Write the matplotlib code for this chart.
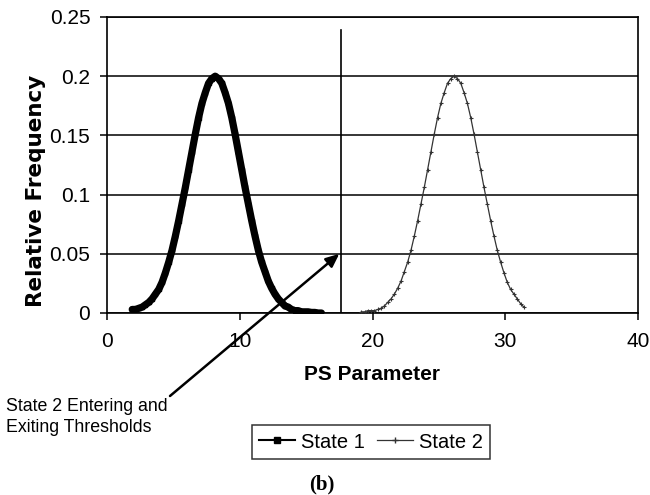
import matplotlib
matplotlib.use("Agg")
import matplotlib.pyplot as plt
from matplotlib.lines import Line2D

plt.rcParams['font.family'] = ['Liberation Sans', 'DejaVu Sans']

# ---- data ----
state1_x = [1.9, 2.15, 2.4, 2.65, 2.9, 3.15, 3.4, 3.65, 3.9, 4.15, 4.4, 4.65, 4.9, 5.15,
            5.4, 5.65, 5.9, 6.15, 6.4, 6.65, 6.9, 7.15, 7.4, 7.65, 7.9, 8.15, 8.4, 8.65,
            8.9, 9.15, 9.4, 9.65, 9.9, 10.15, 10.4, 10.65, 10.9, 11.15, 11.4, 11.65, 11.9,
            12.15, 12.4, 12.65, 12.9, 13.15, 13.4, 13.65, 13.9, 14.15, 14.4, 14.65, 14.9,
            15.15, 15.4, 15.65, 15.9, 16.15]
state1_y = [0.003, 0.003, 0.004, 0.005, 0.007, 0.009, 0.012, 0.016, 0.020, 0.026, 0.034,
            0.043, 0.053, 0.065, 0.078, 0.092, 0.106, 0.121, 0.136, 0.151, 0.165, 0.177,
            0.186, 0.194, 0.198, 0.200, 0.198, 0.194, 0.186, 0.177, 0.165, 0.151, 0.136,
            0.121, 0.106, 0.092, 0.078, 0.065, 0.053, 0.043, 0.035, 0.027, 0.021, 0.016,
            0.012, 0.009, 0.006, 0.005, 0.003, 0.002, 0.002, 0.001, 0.001, 0.001, 0.0005,
            0.0005, 0.0, 0.0]

state2_x = [19.15, 19.4, 19.65, 19.9, 20.15, 20.4, 20.65, 20.9, 21.15, 21.4, 21.65, 21.9,
            22.15, 22.4, 22.65, 22.9, 23.15, 23.4, 23.65, 23.9, 24.15, 24.4, 24.65, 24.9,
            25.15, 25.4, 25.65, 25.9, 26.15, 26.4, 26.65, 26.9, 27.15, 27.4, 27.65, 27.9,
            28.15, 28.4, 28.65, 28.9, 29.15, 29.4, 29.65, 29.9, 30.15, 30.4, 30.65, 30.9,
            31.15, 31.4]
state2_y = [0.001, 0.001, 0.002, 0.002, 0.002, 0.003, 0.004, 0.006, 0.009, 0.012, 0.016,
            0.021, 0.027, 0.035, 0.043, 0.053, 0.065, 0.078, 0.092, 0.106, 0.121, 0.136,
            0.151, 0.165, 0.177, 0.186, 0.194, 0.198, 0.200, 0.198, 0.194, 0.186, 0.177,
            0.165, 0.151, 0.136, 0.121, 0.106, 0.092, 0.078, 0.065, 0.053, 0.043, 0.034,
            0.026, 0.020, 0.016, 0.012, 0.008, 0.005]

threshold_x = 17.6
threshold_top = 0.239
arrow_target = (17.5, 0.05)

x_ticks = [0, 10, 20, 30, 40]
y_ticks = [0, 0.05, 0.1, 0.15, 0.2, 0.25]
y_tick_labels = ['0', '0.05', '0.1', '0.15', '0.2', '0.25']

# ---- figure ----
fig = plt.figure(figsize=(6.5, 4.95), dpi=100)
ax = fig.add_axes([107/650, 1-313/495, (638-107)/650, (313-17)/495])

ax.set_xlim(0, 40)
ax.set_ylim(0, 0.25)
ax.set_xticks(x_ticks)
ax.set_yticks(y_ticks)
ax.set_yticklabels(y_tick_labels)
ax.tick_params(direction='out', length=5, width=1.1, labelsize=15, color='black')
ax.tick_params(axis='x', pad=9)
ax.tick_params(axis='y', pad=7)
ax.yaxis.grid(True, color='black', lw=1.1)
ax.set_axisbelow(True)
for s in ax.spines.values():
    s.set_color('black')
    s.set_linewidth(1.2)

ax.plot(state1_x, state1_y, color='black', lw=5.2, marker='s', ms=3,
        solid_capstyle='round', zorder=3)
ax.plot(state2_x, state2_y, color='#333333', lw=0.9, marker='+', ms=3.5, mew=0.8, zorder=3)

ax.plot([threshold_x, threshold_x], [0, threshold_top], color='black', lw=1.2, zorder=2)

ax.set_xlabel('PS Parameter', fontsize=15, fontweight='bold', labelpad=10)
ax.set_ylabel('Relative Frequency', fontsize=15.5, fontweight='bold',
              family=['DejaVu Sans'])
ax.yaxis.set_label_coords((46-107)/531, (313-191)/296)

ax.annotate('', xy=arrow_target, xycoords='data',
            xytext=(170, 495-396), textcoords='figure pixels',
            arrowprops=dict(arrowstyle='-|>,head_length=0.8,head_width=0.35',
                            color='black', lw=1.8, shrinkA=0, shrinkB=0),
            annotation_clip=False)
fig.text(6/650, 1-398/495, 'State 2 Entering and\nExiting Thresholds', fontsize=12.8,
         ha='left', va='top', linespacing=1.3)

handles = [Line2D([], [], color='black', lw=1.5, marker='s', ms=5),
           Line2D([], [], color='#333333', lw=0.9, marker='+', ms=4)]
leg = fig.legend(handles, ['State 1', 'State 2'], loc='center',
                 bbox_to_anchor=(371/650, 1-442/495), ncol=2, fontsize=14.5,
                 frameon=True, fancybox=False, edgecolor='black',
                 handlelength=1.8, handletextpad=0.3, columnspacing=0.6,
                 borderpad=0.35)
leg.get_frame().set_linewidth(1.1)

fig.text(322/650, 1-484/495, '(b)', fontsize=15, fontweight='bold',
         family=['Liberation Serif'], ha='center', va='center')

fig.savefig('out.png', dpi=100)
